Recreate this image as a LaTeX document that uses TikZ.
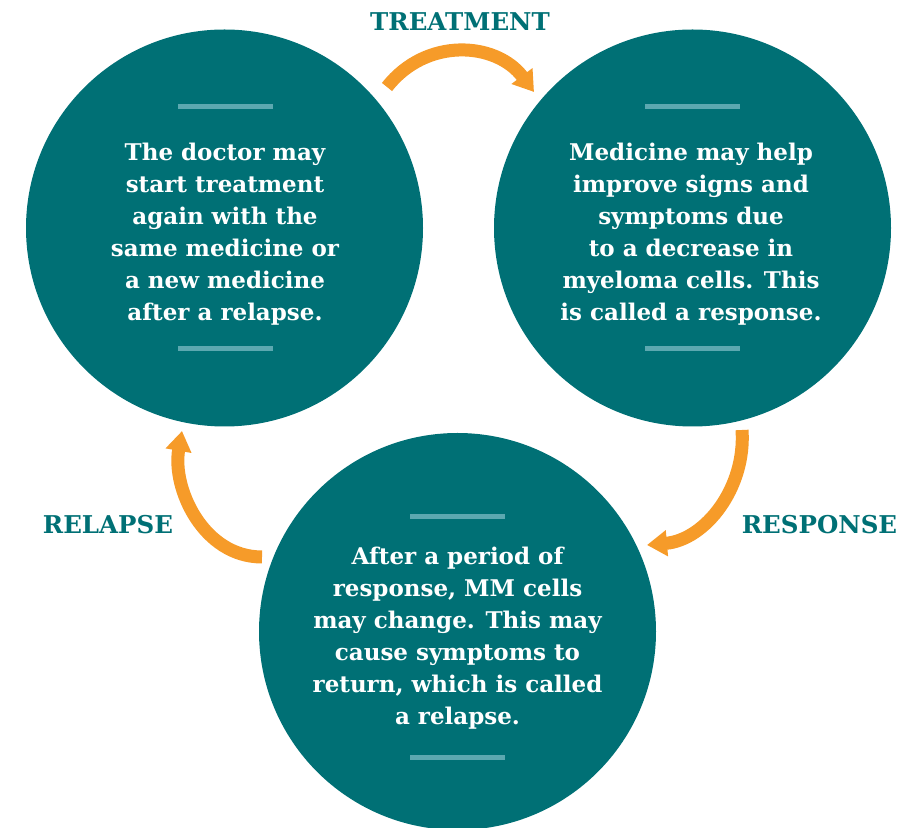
\documentclass[tikz,border=0pt]{standalone}
\usepackage{fontspec}
\setmainfont{DejaVu Serif}
\usetikzlibrary{arrows.meta}
\definecolor{teal}{RGB}{0,112,117}
\definecolor{barteal}{RGB}{92,168,176}
\definecolor{amber}{RGB}{246,155,41}
\tikzset{
  ring/.style={circle,fill=teal,minimum size=397pt,inner sep=0pt},
  blurb/.style={text=white,align=center,font=\bfseries\fontsize{23}{32}\selectfont},
  bar/.style={barteal,line width=5pt},
  flow/.style={amber,line width=13pt,-{Triangle[width=25pt,length=20pt]}},
  tag/.style={text=teal,font=\bfseries\fontsize{24.5}{28}\selectfont}
}
\begin{document}
\begin{tikzpicture}[x=1pt,y=1pt]
  \useasboundingbox (0,0) rectangle (922,828);
  \node[ring] (lt) at (224.5,600) {};
  \node[ring] (rt) at (692.5,600) {};
  \node[ring] (bt) at (457.5,196.5) {};
  \node[blurb] (ltx) at (225,594) {The doctor may\\start treatment\\again with the\\same medicine or\\a new medicine\\after a relapse.};
  \node[blurb] (rtx) at (691,594) {Medicine may help\\improve signs and\\symptoms due\\to a decrease in\\myeloma cells. This\\is called a response.};
  \node[blurb] (btx) at (457.5,189.5) {After a period of\\response, MM cells\\may change. This may\\cause symptoms to\\return, which is called\\a relapse.};
  \draw[bar] (178,721) -- (273,721) (178,479) -- (273,479);
  \draw[bar] (645,721) -- (740,721) (645,479) -- (740,479);
  \draw[bar] (410,311) -- (505,311) (410,70) -- (505,70);
  \node[tag] (treat) at (460,806) {TREATMENT};
  \node[tag] (resp) at (819.5,303) {RESPONSE};
  \node[tag] (rel) at (108,303) {RELAPSE};
  \coordinate (t0) at (387,741);
  \coordinate (t1) at (534,736);
  \coordinate (r0) at (742,398);
  \coordinate (r1) at (647,283);
  \coordinate (l0) at (262,271);
  \coordinate (l1) at (182,397);
  \draw[flow] (t0) to[out=52,in=127,looseness=1.1] (t1);
  \draw[flow] (r0) to[out=-86,in=5] (r1);
  \draw[flow] (l0) to[out=180,in=-100] (l1);
\end{tikzpicture}
\end{document}
